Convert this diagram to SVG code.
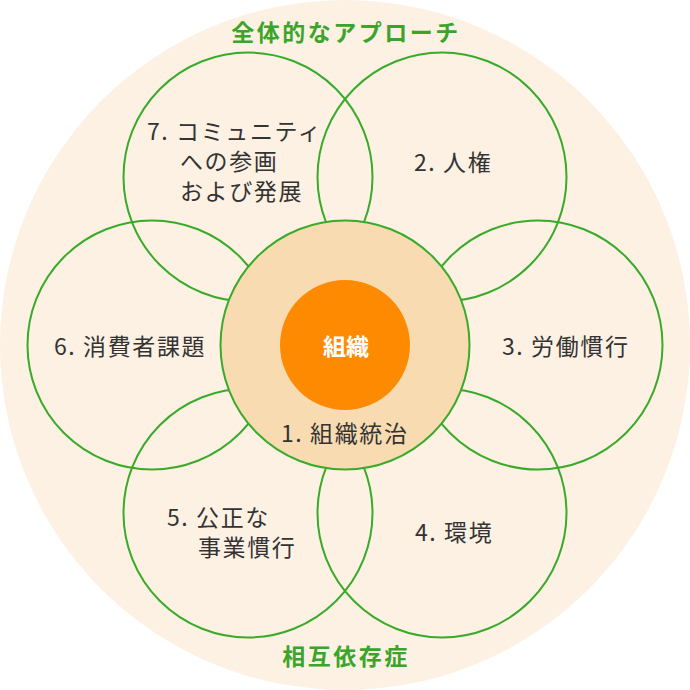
<svg xmlns="http://www.w3.org/2000/svg" width="690" height="690" viewBox="0 0 690 690">
<style>
.petal{fill:none;stroke:#3aaa2a;stroke-width:2}
.lbl{font-family:"Noto Sans CJK JP","Noto Sans",sans-serif;font-size:23px;fill:#333;letter-spacing:1.6px}
.ttl{font-family:"Noto Sans CJK JP","Noto Sans",sans-serif;font-size:23px;font-weight:bold;fill:#3aa52a;letter-spacing:2.5px;text-anchor:middle}
</style>
<circle cx="345" cy="345" r="345" fill="#fcf1e3"/>
<text class="ttl" x="346" y="41">全体的なアプローチ</text>
<text class="ttl" x="346" y="665">相互依存症</text>
<g id="connectors"></g>
<g id="n2"><circle class="petal" cx="442" cy="177" r="124.5"/><text class="lbl" x="414" y="171">2. 人権</text></g>
<g id="n3"><circle class="petal" cx="538" cy="345" r="124.5"/><text class="lbl" x="502" y="355">3. 労働慣行</text></g>
<g id="n4"><circle class="petal" cx="442" cy="513" r="124.5"/><text class="lbl" x="415" y="541">4. 環境</text></g>
<g id="n5"><circle class="petal" cx="248" cy="513" r="124.5"/><text class="lbl"><tspan x="167" y="526">5. 公正な</tspan><tspan x="198" y="556">事業慣行</tspan></text></g>
<g id="n6"><circle class="petal" cx="152" cy="345" r="124.5"/><text class="lbl" x="54" y="355">6. 消費者課題</text></g>
<g id="n7"><circle class="petal" cx="248" cy="177" r="124.5"/><text class="lbl"><tspan x="147" y="140">7. コミュニティ</tspan><tspan x="180" y="170">への参画</tspan><tspan x="180" y="200">および発展</tspan></text></g>
<g id="n1"><circle cx="345" cy="345" r="124.5" fill="#f8dbb0" stroke="#3aaa2a" stroke-width="2"/><text class="lbl" x="281" y="442">1. 組織統治</text></g>
<g id="n0"><circle cx="345" cy="345" r="65" fill="#fd8a00"/><text x="346" y="355" font-family="Noto Sans CJK JP, sans-serif" font-size="23" font-weight="bold" fill="#fff" text-anchor="middle">組織</text></g>
</svg>
